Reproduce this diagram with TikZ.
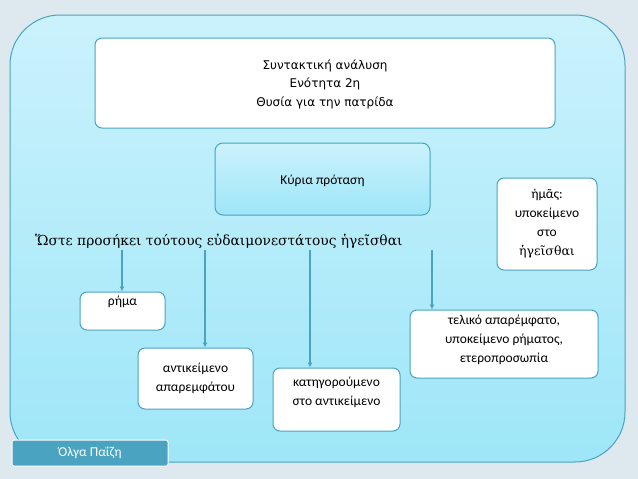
\documentclass[tikz,border=0pt]{standalone}
\usepackage{fontspec}
\usetikzlibrary{arrows.meta}
\setmainfont{Carlito}
\newfontfamily\dv{DejaVu Sans}
\newfontfamily\sr{DejaVu Serif}
\begin{document}
\begin{tikzpicture}[x=1pt,y=-1pt,
  wbox/.style={draw=accent,line width=1pt,fill=white,rounded corners=7pt},
  arr/.style={draw=accent,line width=1.4pt,-{Latex[length=5pt,width=5pt]}},
  txt/.style={font=\fontsize{13.5}{19}\selectfont,align=center}]
\definecolor{accent}{HTML}{4AA3C0}
\definecolor{bg}{HTML}{DDE9EF}
\definecolor{ptop}{HTML}{CBF2FC}
\definecolor{pbot}{HTML}{9EE6F8}
\useasboundingbox (0,0) rectangle (638,479);
\fill[bg] (0,0) rectangle (638,479);
\shade[top color=ptop,bottom color=pbot,draw=accent,line width=1pt,rounded corners=50pt] (10,15) rectangle (625,462);
\node[wbox,minimum width=460pt,minimum height=90pt] (title) at (325,83) {};
\node[font=\dv\fontsize{12}{18.5}\selectfont,align=center] at (325,84) {Συντακτική ανάλυση\\Ενότητα 2η\\Θυσία για την πατρίδα};
\shade[top color=ptop,bottom color=pbot,draw=accent,line width=1pt,rounded corners=8pt] (215,143) rectangle (430,215);
\node[txt] (kyria) at (322.5,181) {Κύρια πρόταση};
\node[wbox,minimum width=100pt,minimum height=92pt] (hmas) at (547,224) {};
\node[txt] at (547,224) {ἡμᾶς:\\υποκείμενο\\στο\\{\sr\fontsize{12.5}{19}\selectfont ἡγεῖσθαι}};
\node[font=\sr\fontsize{13.8}{16}\selectfont,anchor=west,inner sep=0pt] (sent) at (35,241) {Ὥστε προσήκει τούτους εὐδαιμονεστάτους ἡγεῖσθαι};
\node[wbox,minimum width=85pt,minimum height=38pt] (rima) at (122.5,311) {};
\node[txt] at (122.5,302) {ρήμα};
\node[wbox,minimum width=115pt,minimum height=61pt] (ant) at (195.5,378.5) {};
\node[txt] at (195.5,378) {αντικείμενο\\απαρεμφάτου};
\node[wbox,minimum width=127pt,minimum height=63pt] (kat) at (336.5,399.5) {};
\node[txt] at (336.5,392) {κατηγορούμενο\\στο αντικείμενο};
\node[wbox,minimum width=188pt,minimum height=68pt] (tel) at (504,344) {};
\node[txt] at (504,340) {τελικό απαρέμφατο,\\υποκείμενο ρήματος,\\ετεροπροσωπία};
\coordinate (s1) at (122,250); \coordinate (s2) at (205,250);
\coordinate (s3) at (310,250); \coordinate (s4) at (432,250);
\draw[arr] (s1) -- (rima.north-|s1);
\draw[arr] (s2) -- (ant.north-|s2);
\draw[arr] (s3) -- (kat.north-|s3);
\draw[arr] (s4) -- (tel.north-|s4);
\node[fill=accent,draw=white,line width=1pt,rounded corners=2pt,minimum width=156pt,minimum height=26pt,text=white,font=\fontsize{13.5}{16}\selectfont] (auth) at (90,453) {Όλγα Παΐζη};
\end{tikzpicture}
\end{document}
